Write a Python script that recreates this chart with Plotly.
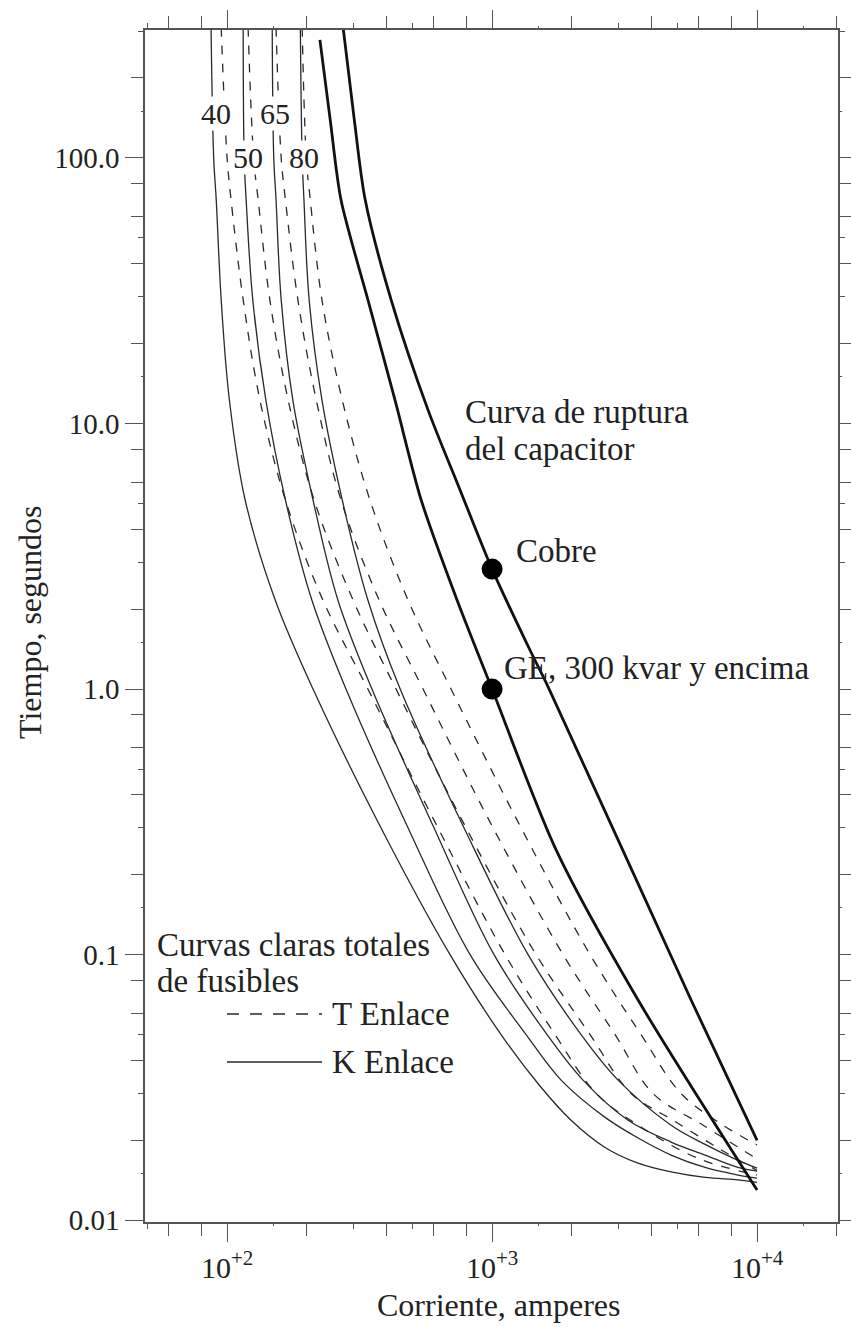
import math
import plotly.graph_objects as go

# ---------------- data (current in A, time in s) ----------------
# K-link fuses, total clearing curves (solid)
K40_I = [87, 89, 91, 95, 102, 117, 152, 211, 381, 694, 1081, 1505, 1986, 2669, 3556, 4737, 6365, 8472, 10000]
K40_T = [310, 100, 69.5, 29.2, 12.26, 5.15, 2.16, 1.0, 0.3, 0.1, 0.05, 0.0323, 0.0238, 0.0188, 0.0164, 0.0152, 0.0145, 0.0142, 0.0139]
K50_I = [115, 116, 118, 125, 140, 166, 209, 281, 482, 826, 1344, 1822, 2669, 3556, 4737, 6365, 8472, 10000]
K50_T = [310, 100, 69.5, 29.2, 12.26, 5.15, 2.16, 1.0, 0.3, 0.1, 0.05, 0.0337, 0.0244, 0.0204, 0.0176, 0.0158, 0.0148, 0.0144]
K65_I = [148, 150, 153, 160, 177, 211, 262, 352, 604, 1017, 1613, 2204, 3260, 4737, 6365, 8472, 10000]
K65_T = [310, 100, 69.5, 29.2, 12.26, 5.15, 2.16, 1.0, 0.3, 0.1, 0.05, 0.0337, 0.0238, 0.0197, 0.0176, 0.0158, 0.0153]
K80_I = [189, 192, 195, 204, 228, 272, 340, 450, 784, 1367, 2167, 2989, 4737, 6365, 8472, 10000]
K80_T = [310, 100, 69.5, 29.2, 12.26, 5.15, 2.16, 1.0, 0.3, 0.1, 0.05, 0.0337, 0.0228, 0.0193, 0.0168, 0.0157]

# T-link fuses, total clearing curves (dashed)
T40_I = [95, 100, 103.5, 115, 133, 166, 230, 340, 625, 1120, 1729, 2470, 3556, 5984, 10000]
T40_T = [310, 100, 69.5, 29.2, 12.26, 5.15, 2.16, 1.0, 0.3, 0.1, 0.05, 0.03, 0.0228, 0.0171, 0.0148]
T50_I = [120, 126, 131, 145, 170, 213, 299, 434, 798, 1466, 2343, 3346, 4820, 7127, 10000]
T50_T = [310, 100, 69.5, 29.2, 12.26, 5.15, 2.16, 1.0, 0.3, 0.1, 0.05, 0.03, 0.0238, 0.0187, 0.0154]
T65_I = [153, 160, 166, 185, 217, 269, 375, 549, 1009, 1853, 2912, 4050, 6255, 10000]
T65_T = [310, 100, 69.5, 29.2, 12.26, 5.15, 2.16, 1.0, 0.3, 0.1, 0.05, 0.03, 0.0228, 0.0170]
T80_I = [192, 199, 206, 228, 272, 346, 482, 700, 1287, 2343, 3650, 5167, 7440, 10000]
T80_T = [310, 100, 69.5, 29.2, 12.26, 5.15, 2.16, 1.0, 0.3, 0.1, 0.05, 0.03, 0.0228, 0.0192]

# Capacitor case rupture curves (thick)
GE_I = [224, 245, 269, 340, 430, 540, 738, 1000, 1744, 3556, 10000]
GE_T = [278, 139, 69.5, 29.2, 12.26, 5.15, 2.16, 1.0, 0.248, 0.0675, 0.0130]
CU_I = [274, 302, 332, 416, 573, 757, 1000, 1391, 1627, 5636, 10000]
CU_T = [310, 139, 69.5, 29.2, 11.25, 5.62, 2.83, 1.40, 1.02, 0.0675, 0.02]

# Marked points
DOT_I = [1000, 1000]
DOT_T = [2.83, 1.0]

# Axis ticks
Y_MAJOR = [0.01, 0.1, 1, 10, 100]
Y_LABELS = ["0.01", "0.1", "1.0", "10.0", "100.0"]
X_MAJOR = [100, 1000, 10000]
X_LABELS = ["10<sup>+2</sup>", "10<sup>+3</sup>", "10<sup>+4</sup>"]
MID_MULT = [2, 4, 6, 8]
SHORT_MULT = [3, 5]
TINY_MULT = [1.5]

FUSE_LABELS = ["40", "50", "65", "80"]

# ---------------- figure ----------------
FONT = "Liberation Serif"
INK = "#222222"
W, H = 851, 1328
ML, MR, MT, MB = 145, 13, 30, 106
PW, PH = W - ML - MR, H - MT - MB

X_RANGE = [math.log10(49), math.log10(20200)]
Y_RANGE = [math.log10(0.00985), math.log10(303)]


def mults(decades, m):
    out = []
    for d in decades:
        for k in m:
            out.append(d * k)
    return out


x_dec = [10, 100, 1000, 10000]
y_dec = [0.001, 0.01, 0.1, 1, 10, 100]

fig = go.Figure()

fuse_line = dict(color="#2a2a2a", width=1.3)
for xi, ti in [(K40_I, K40_T), (K50_I, K50_T), (K65_I, K65_T), (K80_I, K80_T)]:
    fig.add_trace(go.Scatter(x=xi, y=ti, mode="lines", line=dict(**fuse_line, shape="spline", smoothing=1.0),
                             showlegend=False, hoverinfo="skip"))
for xi, ti in [(T40_I, T40_T), (T50_I, T50_T), (T65_I, T65_T), (T80_I, T80_T)]:
    fig.add_trace(go.Scatter(x=xi, y=ti, mode="lines",
                             line=dict(**fuse_line, dash="9px,9px", shape="spline", smoothing=1.0),
                             showlegend=False, hoverinfo="skip"))
for xi, ti in [(GE_I, GE_T), (CU_I, CU_T)]:
    fig.add_trace(go.Scatter(x=xi, y=ti, mode="lines",
                             line=dict(color="#111111", width=2.8, shape="spline", smoothing=0.8),
                             showlegend=False, hoverinfo="skip"))
fig.add_trace(go.Scatter(x=DOT_I, y=DOT_T, mode="markers", marker=dict(color="#000000", size=21),
                         showlegend=False, hoverinfo="skip"))
# empty trace to instantiate the overlay axes carrying extra tick lengths
fig.add_trace(go.Scatter(x=[], y=[], xaxis="x2", yaxis="y2", showlegend=False))

axis_common = dict(type="log", showgrid=False, zeroline=False, ticks="outside",
                   tickcolor="#555555", tickwidth=1.3, automargin=False)

fig.update_layout(
    width=W, height=H,
    margin=dict(l=ML, r=MR, t=MT, b=MB, autoexpand=False),
    paper_bgcolor="white", plot_bgcolor="white",
    showlegend=False,
    xaxis=dict(**axis_common, range=X_RANGE, tickmode="array", tickvals=X_MAJOR, ticktext=X_LABELS,
               ticklen=18, showline=True, linecolor="#555555", linewidth=1.5, mirror="allticks",
               tickfont=dict(family=FONT, size=30, color=INK),
               minor=dict(tickmode="array", tickvals=mults(x_dec, MID_MULT), ticklen=12, ticks="outside",
                          tickcolor="#555555", tickwidth=1.3)),
    yaxis=dict(**axis_common, range=Y_RANGE, tickmode="array", tickvals=Y_MAJOR, ticktext=Y_LABELS,
               ticklen=18, showline=True, linecolor="#555555", linewidth=1.5, mirror="allticks",
               tickfont=dict(family=FONT, size=29, color=INK),
               minor=dict(tickmode="array", tickvals=mults(y_dec, MID_MULT), ticklen=12, ticks="outside",
                          tickcolor="#555555", tickwidth=1.3)),
    xaxis2=dict(**axis_common, range=X_RANGE, overlaying="x", anchor="y", side="bottom",
                tickmode="array", tickvals=mults(x_dec, SHORT_MULT), ticklen=6, showticklabels=False,
                showline=False, mirror="allticks",
                minor=dict(tickmode="array", tickvals=mults(x_dec, TINY_MULT), ticklen=3, ticks="outside",
                           tickcolor="#555555", tickwidth=1.3)),
    yaxis2=dict(**axis_common, range=Y_RANGE, overlaying="y", anchor="x", side="left",
                tickmode="array", tickvals=mults(y_dec, SHORT_MULT), ticklen=6, showticklabels=False,
                showline=False, mirror="allticks",
                minor=dict(tickmode="array", tickvals=mults(y_dec, TINY_MULT), ticklen=3, ticks="outside",
                           tickcolor="#555555", tickwidth=1.3)),
)


def px(x, y):
    return (x - ML) / PW, (H - MB - y) / PH


def text(t, x, y, size=33, xanchor="left", bg=None, angle=0):
    xp, yp = px(x, y)
    a = dict(text=t, x=xp, y=yp, xref="paper", yref="paper", xanchor=xanchor, yanchor="middle",
             showarrow=False, font=dict(family=FONT, size=size, color=INK), textangle=angle,
             borderpad=0)
    if bg:
        a["bgcolor"] = bg
    fig.add_annotation(**a)


# fuse rating labels (white box hides the curves behind them)
for lab, (x, y) in zip(FUSE_LABELS, [(216, 113), (248, 158), (275, 113), (304, 158)]):
    text(lab, x, y, size=30, xanchor="center", bg="white")

text("Curva de ruptura", 464, 412)
text("del capacitor", 464, 449)
text("Cobre", 515, 551)
text("GE, 300 kvar y encima", 503, 668)
text("Curvas claras totales", 156, 945)
text("de fusibles", 156, 981)
text("T Enlace", 331, 1014)
text("K Enlace", 331, 1062)
text("Corriente, amperes", 498, 1305, size=32, xanchor="center")
text("Tiempo, segundos", 30, 622, size=32, xanchor="center", angle=-90)

# legend keys
for yk, dash in [(1014, "dash"), (1062, "solid")]:
    x0, y0 = px(227, yk)
    x1, _ = px(322, yk)
    fig.add_shape(type="line", xref="paper", yref="paper", x0=x0, x1=x1, y0=y0, y1=y0,
                  line=dict(color="#2a2a2a", width=1.3, dash="12px,11px" if dash == "dash" else "solid"))

fig.write_html("out.html")
